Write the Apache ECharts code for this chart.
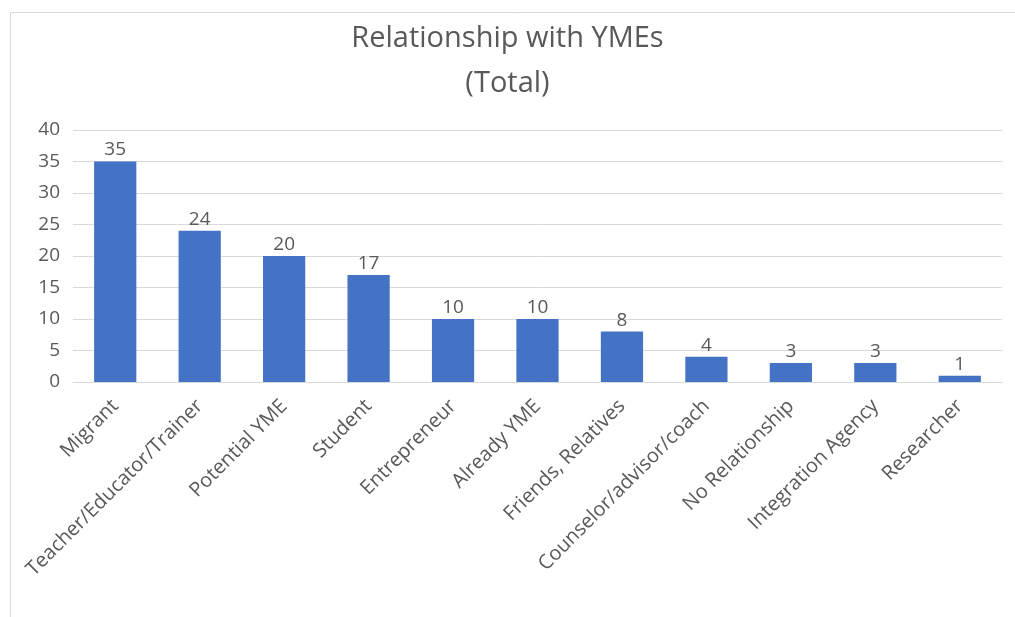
<!DOCTYPE html>
<html>
<head>
<meta charset="utf-8">
<script src="https://cdn.jsdelivr.net/npm/echarts@6/dist/echarts.min.js"></script>
<style>
  html, body { margin: 0; padding: 0; background: #ffffff; }
  #chart { width: 1015px; height: 617px; }
</style>
</head>
<body>
<div id="chart"></div>
<script>
// Respondents by relationship with young migrant entrepreneurs
const categories = [
  'Migrant', 'Teacher/Educator/Trainer', 'Potential YME', 'Student',
  'Entrepreneur', 'Already YME', 'Friends, Relatives',
  'Counselor/advisor/coach', 'No Relationship', 'Integration Agency', 'Researcher'
];
const counts = [35, 24, 20, 17, 10, 10, 8, 4, 3, 3, 1];
const yTicks = [0, 5, 10, 15, 20, 25, 30, 35, 40];

const FONT = '"Open Sans", "Noto Sans", sans-serif';
const TEXT = '#595959';

const chart = echarts.init(document.getElementById('chart'), null, { renderer: 'canvas' });
chart.setOption({
  animation: false,
  backgroundColor: '#ffffff',
  graphic: [{
    type: 'rect',
    shape: { x: 10.5, y: 12.5, width: 1100, height: 700 },
    style: { fill: 'none', stroke: '#d9d9d9', lineWidth: 1 },
    silent: true
  }],
  title: {
    text: 'Relationship with YMEs\n(Total)',
    left: 'center',
    top: 11,
    textStyle: {
      fontFamily: FONT, fontSize: 29, fontWeight: 'normal',
      color: TEXT, lineHeight: 45
    }
  },
  grid: { left: 73, right: 13, top: 130, bottom: 235, containLabel: false },
  xAxis: {
    type: 'category',
    data: categories,
    axisTick: { show: false },
    axisLine: { show: true, lineStyle: { color: '#d9d9d9', width: 1 } },
    axisLabel: {
      interval: 0, rotate: 45, margin: 21,
      fontFamily: FONT, fontSize: 20, color: TEXT
    }
  },
  yAxis: {
    type: 'value',
    min: yTicks[0],
    max: yTicks[yTicks.length - 1],
    interval: yTicks[1] - yTicks[0],
    axisLine: { show: false },
    axisTick: { show: false },
    splitLine: { lineStyle: { color: '#d9d9d9', width: 1 } },
    axisLabel: { margin: 13, fontFamily: FONT, fontSize: 19, color: TEXT }
  },
  series: [{
    type: 'bar',
    data: counts,
    barWidth: '50%',
    itemStyle: { color: '#4472C4' },
    label: {
      show: true, position: 'top', distance: 2,
      fontFamily: FONT, fontSize: 19, color: TEXT
    }
  }]
});
</script>
</body>
</html>
